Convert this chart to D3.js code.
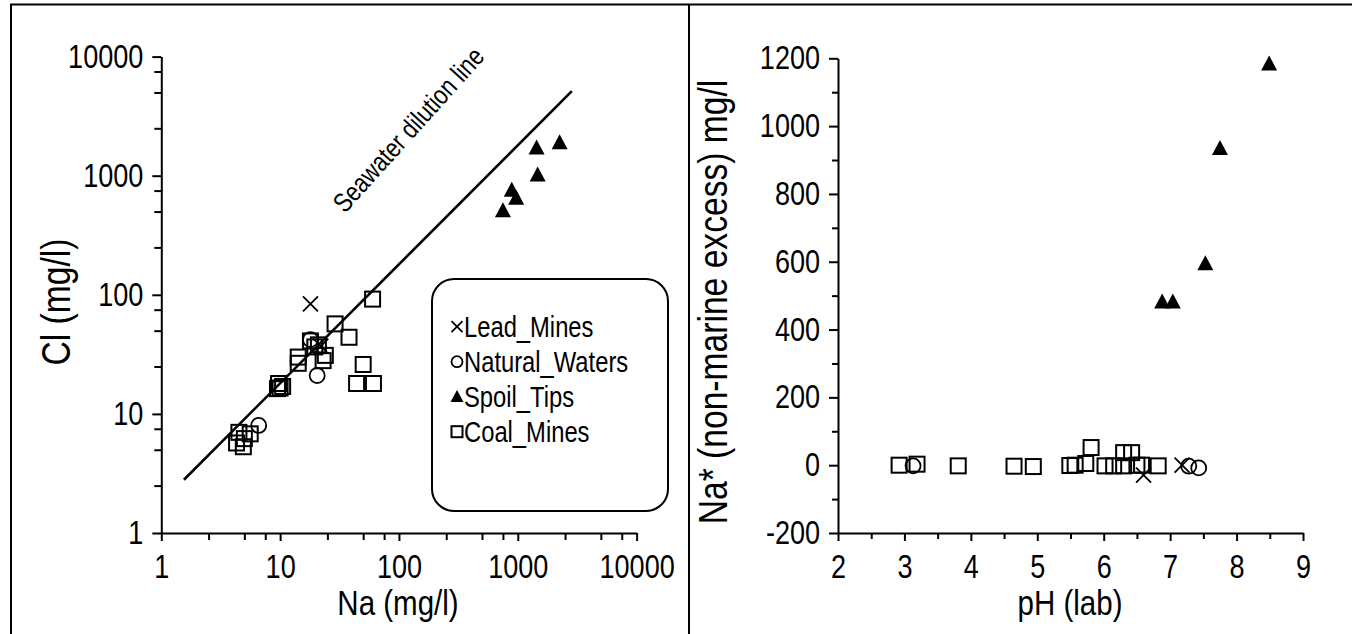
<!DOCTYPE html>
<html>
<head>
<meta charset="utf-8">
<script src="https://cdn.jsdelivr.net/npm/d3@7"></script>
<style>
  html, body { margin: 0; padding: 0; background: #fff; }
  svg { display: block; }
  text { font-family: "Liberation Sans", Arial, Helvetica, sans-serif; fill: #000; }
</style>
</head>
<body>
<svg id="chart" width="1352" height="634"></svg>
<script>
// ---- Left panel: Cl vs Na (log-log) ----
const coalNa   = [60, 29, 38, 50, 44, 61, 18, 19.6, 21, 14.2, 14.2, 23, 24, 9.7, 10, 10.5, 9.5, 4.5, 5, 4.9, 5.6, 4.3];
const coalCl   = [92, 57, 44, 26, 18, 18, 41, 36.5, 38, 30, 26.6, 28, 31, 18, 16.5, 17, 16.3, 7, 6.2, 5.3, 6.8, 5.7];
const naturalNa = [20.5, 6.6, 18];
const naturalCl = [21, 8, 42];
const leadNa   = [18, 22];
const leadCl   = [84, 37];
const spoilNa  = [1440, 2250, 1470, 890, 970, 750];
const spoilCl  = [1720, 1900, 1020, 760, 650, 510];
const seawaterNa = [1.55, 2850];
const seawaterCl = [2.8, 5130];

// ---- Right panel: Na* (non-marine excess) vs pH ----
const coalPH    = [2.92, 3.19, 3.81, 4.65, 4.94, 5.49, 5.57, 5.73, 5.81, 6.02, 6.15, 6.30, 6.30, 6.42, 6.50, 6.57, 6.82];
const coalNaX   = [0, 3, -2, -3, -4, -1, 0, 5, 52, -2, -2, -2, 37, 37, 0, 0, -2];
const naturalPH = [3.13, 7.28, 7.43];
const naturalNaX = [-2, -3, -8];
const leadPH    = [6.60, 7.18];
const leadNaX   = [-29, 0];
const spoilPH   = [8.49, 7.75, 7.53, 6.88, 7.04];
const spoilNaX  = [1184, 935, 595, 482, 482];

const logTicks = [1, 10, 100, 1000, 10000];
const phTicks = [2, 3, 4, 5, 6, 7, 8, 9];
const naxTicks = [-200, 0, 200, 400, 600, 800, 1000, 1200];
const legendLabels = ["Lead_Mines", "Natural_Waters", "Spoil_Tips", "Coal_Mines"];

// horizontal squeeze giving a condensed typeface look
const NARROW = 0.82;
const fmtInt = d => String(d);   // plain hyphen for negatives

const svg = d3.select("#chart");

// outer frame and panel divider
svg.append("path")
  .attr("d", "M11,634 V4.5 H1352 M689,4.5 V634")
  .attr("fill", "none").attr("stroke", "#000").attr("stroke-width", 2);

// text helper: placed at (x,y), optional rotation, condensed horizontally
function label(g, x, y, str, size, opts = {}) {
  const rot = opts.rotate ? ` rotate(${opts.rotate})` : "";
  return g.append("text")
    .attr("transform", `translate(${x},${y})${rot} scale(${NARROW},1)`)
    .attr("text-anchor", opts.anchor || "start")
    .style("font-size", size + "px")
    .text(str);
}

// marker drawing helpers
function drawSquare(g, x, y, s) {
  g.append("rect").attr("x", x - s / 2).attr("y", y - s / 2).attr("width", s).attr("height", s)
    .attr("fill", "none").attr("stroke", "#000").attr("stroke-width", 2);
}
function drawCircle(g, x, y, r) {
  g.append("circle").attr("cx", x).attr("cy", y).attr("r", r)
    .attr("fill", "none").attr("stroke", "#000").attr("stroke-width", 1.8);
}
function drawCross(g, x, y, h) {
  g.append("path").attr("d", `M${x-h},${y-h}L${x+h},${y+h}M${x-h},${y+h}L${x+h},${y-h}`)
    .attr("fill", "none").attr("stroke", "#000").attr("stroke-width", 1.8);
}
function drawTriangle(g, x, y, w, h) {
  g.append("path").attr("d", `M${x},${y - h*0.55}L${x + w/2},${y + h*0.45}L${x - w/2},${y + h*0.45}Z`)
    .attr("fill", "#000");
}

function styleAxis(sel) {
  sel.selectAll("path.domain").attr("stroke", "#000").attr("stroke-width", 2);
  sel.selectAll(".tick line").attr("stroke", "#000").attr("stroke-width", 2);
  sel.selectAll(".tick text")
    .style("font-size", "33px").attr("fill", "#000")
    .attr("x", function () { return (+d3.select(this).attr("x") || 0) / NARROW; })
    .attr("transform", `scale(${NARROW},1)`);
}
function minorTicks(sel) {
  sel.select("path.domain").remove();
  sel.selectAll(".tick line").attr("stroke", "#000").attr("stroke-width", 2);
}

// minor tick values for log axis (2.5, 5, 7.5 of each decade)
const logMinor = [];
[1, 10, 100, 1000].forEach(d => [2.5, 5, 7.5].forEach(m => logMinor.push(d * m)));

// ================= Left panel =================
const xL = d3.scaleLog().domain([1, 10000]).range([161.3, 636.6]);
const yL = d3.scaleLog().domain([1, 10000]).range([533, 56.6]);
const gL = svg.append("g");

gL.append("g").attr("transform", "translate(0,533)")
  .call(d3.axisBottom(xL).tickValues(logMinor).tickFormat("").tickSize(7).tickSizeOuter(0))
  .call(minorTicks);
gL.append("g").attr("transform", "translate(161.3,0)")
  .call(d3.axisLeft(yL).tickValues(logMinor).tickFormat("").tickSize(7).tickSizeOuter(0))
  .call(minorTicks);
gL.append("g").attr("transform", "translate(0,533)")
  .call(d3.axisBottom(xL).tickValues(logTicks).tickFormat(fmtInt).tickSize(8).tickSizeOuter(0).tickPadding(14))
  .call(styleAxis);
gL.append("g").attr("transform", "translate(161.3,0)")
  .call(d3.axisLeft(yL).tickValues(logTicks).tickFormat(fmtInt).tickSize(9).tickSizeOuter(0).tickPadding(9))
  .call(styleAxis);

// seawater dilution line
gL.append("path")
  .datum(seawaterNa.map((v, i) => [v, seawaterCl[i]]))
  .attr("d", d3.line().x(d => xL(d[0])).y(d => yL(d[1])))
  .attr("fill", "none").attr("stroke", "#000").attr("stroke-width", 2.6);
label(gL, 345, 214, "Seawater dilution line", 27, { rotate: -48 });

// markers
coalNa.forEach((v, i) => drawSquare(gL, xL(v), yL(coalCl[i]), 15));
naturalNa.forEach((v, i) => drawCircle(gL, xL(v), yL(naturalCl[i]), 7.5));
leadNa.forEach((v, i) => drawCross(gL, xL(v), yL(leadCl[i]), 7.5));
spoilNa.forEach((v, i) => drawTriangle(gL, xL(v), yL(spoilCl[i]), 16, 15));

// axis titles
label(gL, 70, 302, "Cl (mg/l)", 41, { rotate: -90, anchor: "middle" });
label(gL, 398, 615, "Na (mg/l)", 36, { anchor: "middle" });

// legend
const leg = gL.append("g");
leg.append("rect").attr("x", 432).attr("y", 279).attr("width", 236).attr("height", 232)
  .attr("rx", 22).attr("ry", 22)
  .attr("fill", "#fff").attr("stroke", "#000").attr("stroke-width", 2);
const legY = d3.scalePoint().domain(legendLabels).range([326.7, 431.7]);
legendLabels.forEach((lab, i) => {
  const cy = legY(lab);
  const cx = 457;
  if (i === 0) drawCross(leg, cx, cy, 5.5);
  if (i === 1) drawCircle(leg, cx, cy, 5.5);
  if (i === 2) drawTriangle(leg, cx, cy, 13, 12);
  if (i === 3) drawSquare(leg, cx, cy, 11);
  label(leg, 464, cy + 10.5, lab, 29);
});

// ================= Right panel =================
const xR = d3.scaleLinear().domain([2, 9]).range([838, 1303]);
const yR = d3.scaleLinear().domain([-200, 1200]).range([533, 58.3]);
const gR = svg.append("g");

gR.append("g").attr("transform", "translate(0,533)")
  .call(d3.axisBottom(xR).tickValues(d3.range(2.5, 9, 1)).tickFormat("").tickSize(6).tickSizeOuter(0))
  .call(minorTicks);
gR.append("g").attr("transform", "translate(838,0)")
  .call(d3.axisLeft(yR).tickValues(d3.range(-100, 1200, 200)).tickFormat("").tickSize(6).tickSizeOuter(0))
  .call(minorTicks);
gR.append("g").attr("transform", "translate(0,533)")
  .call(d3.axisBottom(xR).tickValues(phTicks).tickFormat(fmtInt).tickSize(8).tickSizeOuter(0).tickPadding(14))
  .call(styleAxis);
gR.append("g").attr("transform", "translate(838,0)")
  .call(d3.axisLeft(yR).tickValues(naxTicks).tickFormat(fmtInt).tickSize(9).tickSizeOuter(0).tickPadding(9))
  .call(styleAxis);

coalPH.forEach((v, i) => drawSquare(gR, xR(v), yR(coalNaX[i]), 15));
naturalPH.forEach((v, i) => drawCircle(gR, xR(v), yR(naturalNaX[i]), 7.5));
leadPH.forEach((v, i) => drawCross(gR, xR(v), yR(leadNaX[i]), 7.5));
spoilPH.forEach((v, i) => drawTriangle(gR, xR(v), yR(spoilNaX[i]), 16, 15));

label(gR, 727, 302, "Na* (non-marine excess) mg/l", 41, { rotate: -90, anchor: "middle" });
label(gR, 1070, 615, "pH (lab)", 36, { anchor: "middle" });
</script>
</body>
</html>
